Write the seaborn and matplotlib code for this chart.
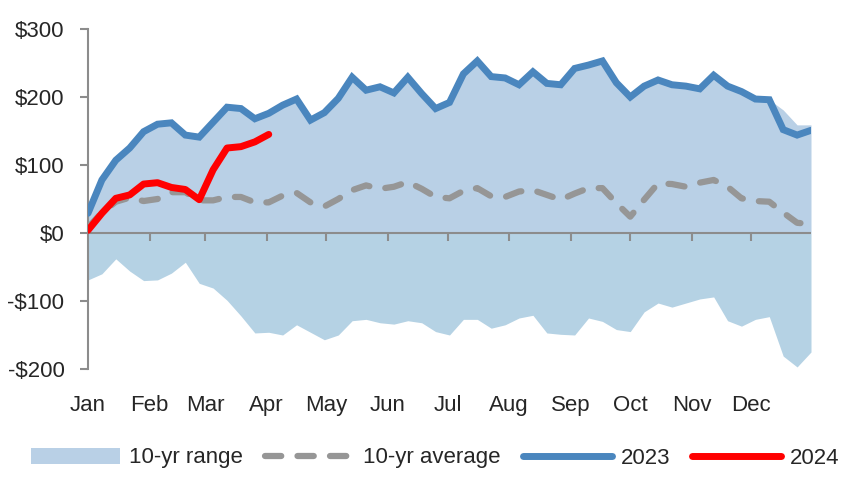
import numpy as np
import pandas as pd
import matplotlib
matplotlib.use("Agg")
import matplotlib.pyplot as plt
import seaborn as sns
from matplotlib.lines import Line2D
from matplotlib.patches import Patch

# weekly values, week 0 = start of Jan
range_high = [29, 78, 107, 125, 149, 160, 162, 144, 141, 163, 185, 183, 168, 176, 188, 197,
              166, 177, 198, 229, 210, 215, 206, 229, 205, 183, 192, 234, 253, 230, 228, 218,
              237, 220, 218, 242, 247, 253, 221, 200, 216, 225, 218, 216, 212, 232, 216, 208,
              197, 196, 181, 159, 159]
range_low = [-69, -60, -38, -56, -70, -69, -59, -43, -74, -81, -99, -122, -147, -146, -150, -135,
             -146, -157, -150, -129, -127, -132, -134, -129, -132, -145, -150, -127, -127, -140, -135, -125,
             -121, -147, -149, -150, -125, -130, -142, -145, -116, -103, -109, -103, -97, -94, -129, -137,
             -127, -123, -181, -197, -175]
avg_10yr = [8, 30, 46, 52, 47, 50, 60, 60, 48, 48, 53, 53, 45, 45, 55, 59,
            45, 39, 50, 63, 70, 65, 68, 75, 65, 53, 51, 62, 66, 54, 53, 61,
            63, 56, 49, 58, 66, 66, 44, 24, 49, 73, 72, 68, 74, 78, 68, 51,
            47, 46, 30, 15, 13]
y2023 = [29, 78, 107, 125, 149, 160, 162, 144, 141, 163, 185, 183, 168, 176, 188, 197,
         166, 177, 198, 229, 210, 215, 206, 229, 205, 183, 192, 234, 253, 230, 228, 218,
         237, 220, 218, 242, 247, 253, 221, 200, 216, 225, 218, 216, 212, 232, 216, 208,
         197, 196, 152, 144, 151]
y2024 = [4, 29, 51, 56, 72, 74, 67, 64, 49, 93, 125, 127, 134, 145]

months = ["Jan", "Feb", "Mar", "Apr", "May", "Jun", "Jul", "Aug", "Sep", "Oct", "Nov", "Dec"]
month_start_day = [0, 31, 59, 90, 120, 151, 181, 212, 243, 273, 304, 334]

weeks = np.arange(len(y2023))
df = pd.DataFrame({"week": weeks, "high": range_high, "low": range_low,
                   "avg": avg_10yr, "y2023": y2023})
df24 = pd.DataFrame({"week": np.arange(len(y2024)), "y2024": y2024})

fill_top = "#b9d0e6"
fill_bot = "#b5d2e4"
blue = "#4a86be"
grey = "#969696"
axis_grey = "#8c8c8c"
dash = (0, (2.6, 2.6))

sns.set_style("white")
plt.rcParams["font.family"] = ["Liberation Sans", "DejaVu Sans"]

fig = plt.figure(figsize=(8.52, 4.87), dpi=100)
ax = fig.add_axes([88 / 852, 1 - 369 / 487, (811 - 88) / 852, (369 - 29) / 487])

ax.fill_between(df["week"], 0, df["high"], color=fill_top, lw=0)
ax.fill_between(df["week"], df["low"], 0, color=fill_bot, lw=0)
ax.axhline(0, color=axis_grey, lw=1.5, zorder=2)

sns.lineplot(data=df, x="week", y="avg", ax=ax, color=grey, lw=4.5,
             linestyle=dash, dash_capstyle="round", zorder=3)
sns.lineplot(data=df, x="week", y="y2023", ax=ax, color=blue, lw=5, zorder=4,
             solid_joinstyle="miter")
sns.lineplot(data=df24, x="week", y="y2024", ax=ax, color="red", lw=5, zorder=5,
             solid_capstyle="round")

ax.set_xlim(0, 52)
ax.set_ylim(-200, 300)
yt = [-200, -100, 0, 100, 200, 300]
ax.set_yticks(yt)
ax.set_yticklabels([f"${v}" if v >= 0 else f"-${-v}" for v in yt])
ax.set_xlabel("")
ax.set_ylabel("")

tick_pos = [d / 7 for d in month_start_day]
ax.set_xticks(tick_pos)
ax.set_xticklabels(months)
ax.tick_params(axis="x", length=0, pad=19, labelsize=16)
ax.tick_params(axis="y", length=6, width=1.5, color=axis_grey, direction="out",
               pad=11, labelsize=16, left=True)

for s in ["top", "right", "bottom"]:
    ax.spines[s].set_visible(False)
ax.spines["left"].set_color(axis_grey)
ax.spines["left"].set_linewidth(1.5)

# month tick marks sitting on the zero line
sec = ax.secondary_xaxis(0.4)
sec.set_zorder(10)
sec.set_xticks(tick_pos[1:])
sec.tick_params(axis="x", length=6, width=1.5, color=axis_grey, direction="out", labelbottom=False)
sec.spines["bottom"].set_visible(False)

handles = [
    Patch(facecolor=fill_top, edgecolor="none"),
    Line2D([], [], color=grey, lw=4.5, linestyle=dash, dash_capstyle="round"),
    Line2D([], [], color=blue, lw=5, solid_capstyle="round"),
    Line2D([], [], color="red", lw=5, solid_capstyle="round"),
]
labels = ["10-yr range", "10-yr average", "2023", "2024"]
fig.legend(handles, labels, loc="center", bbox_to_anchor=(0.511, 1 - 458 / 487), ncol=4,
           frameon=False, fontsize=16, handlelength=4.0, handletextpad=0.4, columnspacing=1.0)

fig.savefig("out.png", dpi=100)
